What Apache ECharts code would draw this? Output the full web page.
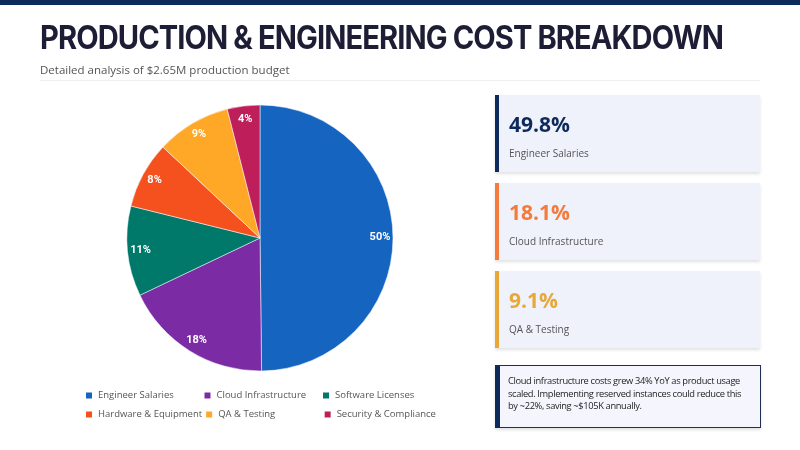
<!DOCTYPE html>
<html>
<head>
<meta charset="utf-8">
<script src="https://cdn.jsdelivr.net/npm/echarts@6/dist/echarts.min.js"></script>
<style>
  html, body { margin: 0; padding: 0; background: #fff; }
  #page { position: relative; width: 800px; height: 450px; overflow: hidden; font-family: "Open Sans", sans-serif; }
  #topbar { position: absolute; left: 0; top: 0; width: 800px; height: 5px; background: #0d2a5c; }
  #title { position: absolute; left: 40px; top: 18px; font-family: Inter, sans-serif; font-weight: 700; font-size: 32px;
           letter-spacing: -1px; color: #1e1d36; white-space: nowrap; transform-origin: left top; }
  #subtitle { position: absolute; left: 40px; top: 62px; font-size: 11.5px; color: #555; }
  #rule { position: absolute; left: 40px; top: 80px; width: 720px; height: 1px; background: #f0f0f4; }
  #chart { position: absolute; left: 0; top: 0; width: 800px; height: 450px; }
  .card { position: absolute; left: 495px; width: 265px; height: 77px; background: #eff2fb; box-sizing: border-box;
          border-left: 4px solid #0d2a5c; box-shadow: 0 2px 3px rgba(0,0,0,0.12); }
  .card .num { position: absolute; left: 10px; top: 15px; font-size: 21px; font-weight: 700; }
  .card .lbl { position: absolute; left: 10px; top: 51px; font-size: 10px; color: #555; }
  #note { position: absolute; left: 495px; top: 365px; width: 266px; height: 63px; background: #f5f6fd; box-sizing: border-box;
          border: 1px solid #1d2f55; border-left: 5px solid #0d2a5c; box-shadow: 0 2px 3px rgba(0,0,0,0.12);
          padding: 9px 12px 0 8px; font-size: 9.3px; line-height: 12.5px; color: #222; letter-spacing: -0.35px; }
</style>
</head>
<body>
<div id="page">
  <div id="chart"></div>
  <div id="topbar"></div>
  <div id="title">PRODUCTION &amp; ENGINEERING COST BREAKDOWN</div>
  <div id="subtitle">Detailed analysis of $2.65M production budget</div>
  <div id="rule"></div>
  <div id="cards"></div>
  <div id="note">Cloud infrastructure costs grew 34% YoY as product usage scaled. Implementing reserved instances could reduce this by ~22%, saving ~$105K annually.</div>
</div>
<script>
// cost categories and amounts ($K), total 2650
var categories = ['Engineer Salaries', 'Cloud Infrastructure', 'Software Licenses', 'Hardware & Equipment', 'QA & Testing', 'Security & Compliance'];
var amounts = [1320, 480, 290, 215, 240, 105];
var colors = ['#1565c0', '#7b2ca5', '#00796b', '#f4511e', '#ffa726', '#be1f5a'];

// highlight cards
var cardValues = ['49.8%', '18.1%', '9.1%'];
var cardLabels = ['Engineer Salaries', 'Cloud Infrastructure', 'QA & Testing'];
var cardColors = ['#0d2a5c', '#f47b3c', '#e8a838'];

var cardsHtml = '';
cardValues.forEach(function (v, i) {
    cardsHtml += '<div class="card" style="top:' + (95 + i * 88) + 'px;border-left-color:' + cardColors[i] + '">' +
        '<div class="num" style="color:' + cardColors[i] + '">' + v + '</div>' +
        '<div class="lbl">' + cardLabels[i] + '</div></div>';
});
document.getElementById('cards').innerHTML = cardsHtml;

var pieData = categories.map(function (name, i) {
    return { name: name, value: amounts[i], itemStyle: { color: colors[i] } };
});

var myChart = echarts.init(document.getElementById('chart'));
var option = {
    animation: false,
    legend: {
        left: 79,
        top: 382,
        width: 380,
        itemWidth: 8,
        itemHeight: 8,
        itemGap: 2,
        icon: 'rect',
        selectedMode: false,
        textStyle: { fontFamily: 'Open Sans', fontSize: 9.5, color: '#555', width: 102.5, lineHeight: 17 },
        data: categories
    },
    series: [{
        type: 'pie',
        center: [260, 238],
        radius: [0, 133],
        startAngle: 90,
        clockwise: true,
        silent: true,
        label: { show: false },
        itemStyle: { borderColor: '#fff', borderWidth: 0.5 },
        data: pieData
    }, {
        // label ring: same slices, invisible, so labels sit near the rim
        type: 'pie',
        center: [260, 238],
        radius: [100, 134],
        startAngle: 90,
        clockwise: true,
        silent: true,
        legendHoverLink: false,
        itemStyle: { color: 'rgba(0,0,0,0)', borderWidth: 0 },
        label: {
            show: true,
            position: 'inside',
            color: '#fff',
            fontFamily: 'Roboto',
            fontWeight: 'bold',
            fontSize: 11,
            formatter: function (p) { return Math.round(p.percent) + '%'; }
        },
        labelLine: { show: false },
        data: amounts.map(function (v, i) { return { name: categories[i], value: v }; })
    }]
};
myChart.setOption(option);

// fit title width to reference (~683px)
var t = document.getElementById('title');
t.style.transform = 'scaleX(' + (683 / t.offsetWidth) + ')';
</script>
</body>
</html>
